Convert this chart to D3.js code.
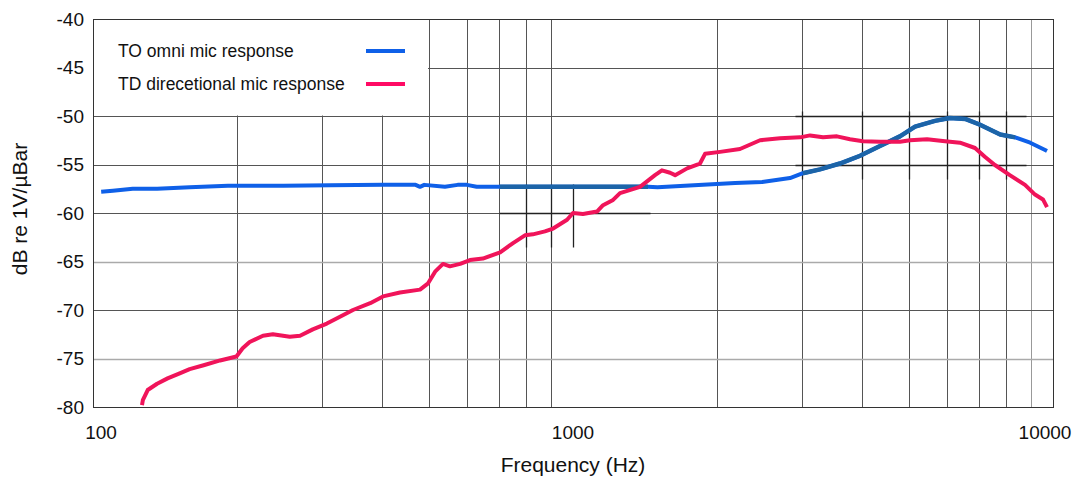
<!DOCTYPE html>
<html>
<head>
<meta charset="utf-8">
<script src="https://cdn.jsdelivr.net/npm/d3@7"></script>
<style>
	body { margin: 0; background: #fff; }
	svg { display: block; font-family: Arial, 'Liberation Sans', sans-serif; }
</style>
</head>
<body>
<div id="chart"></div>
<script>
// omni mic response (Hz, dB)
const omniFreq = [104, 110, 121, 136, 159, 191, 249, 312, 402, 470, 480, 490, 541, 575, 601, 630, 649, 704, 900, 1100, 1433, 1500, 1866, 2176, 2477, 2832, 3013, 3271, 3597, 3963, 4361, 4798, 5160, 5677, 6098, 6561, 7047, 7762, 8340, 8963, 9629, 9716];
const omniDb = [-57.8, -57.7, -57.5, -57.5, -57.35, -57.2, -57.2, -57.15, -57.1, -57.1, -57.3, -57.1, -57.3, -57.1, -57.1, -57.3, -57.3, -57.3, -57.3, -57.3, -57.3, -57.35, -57.1, -56.9, -56.8, -56.4, -55.9, -55.5, -54.9, -54.1, -53.1, -52.1, -51.1, -50.5, -50.2, -50.3, -50.9, -51.9, -52.2, -52.75, -53.5, -53.6];
// directional mic response
const dirFreq = [126.5, 127, 130, 136, 143, 152, 159, 170, 184, 199, 205, 212, 226, 237, 257, 270, 287, 307, 327, 348, 378, 402, 436, 480, 499, 516, 536, 554, 582, 610, 649, 705, 750, 794, 825, 874, 909, 972, 1000, 1049, 1122, 1155, 1212, 1253, 1379, 1482, 1532, 1593, 1632, 1729, 1839, 1884, 2025, 2228, 2453, 2700, 2972, 3118, 3318, 3548, 3776, 4019, 4361, 4800, 5035, 5465, 5957, 6400, 6879, 7211, 7568, 8128, 8744, 9173, 9530, 9716];
const dirDb = [-79.8, -79.3, -78.25, -77.6, -77.05, -76.5, -76.1, -75.7, -75.2, -74.8, -73.95, -73.3, -72.65, -72.5, -72.75, -72.65, -72.0, -71.4, -70.7, -70.0, -69.3, -68.6, -68.2, -67.9, -67.25, -66.05, -65.25, -65.5, -65.25, -64.85, -64.7, -64.05, -63.1, -62.3, -62.2, -61.9, -61.6, -60.7, -60.0, -60.1, -59.85, -59.2, -58.65, -57.95, -57.3, -56.1, -55.6, -55.85, -56.1, -55.4, -54.9, -53.9, -53.7, -53.4, -52.5, -52.3, -52.2, -52.0, -52.2, -52.1, -52.4, -52.6, -52.65, -52.65, -52.5, -52.4, -52.6, -52.75, -53.3, -54.2, -55.05, -56.1, -57.1, -58.1, -58.6, -59.4];
// darker overlay ranges on the omni trace
const omniDarkRanges = [[700, 1450], [2950, 8500]];

const xTicks = [100, 1000, 10000];
const xGrid = [200, 300, 400, 500, 600, 700, 800, 900, 2000, 3000, 4000, 5000, 6000, 7000, 8000, 9000];
const yTicks = [-40, -45, -50, -55, -60, -65, -70, -75, -80];
const legendLabels = ['TO omni mic response', 'TD direcetional mic response'];

const colors = { omni: '#0f60e8', omniDark: '#1c64a8', dir: '#f0145a' };

const W = 1078, H = 477;
const margin = { top: 19, right: 25, bottom: 70, left: 93 };
const width = W - margin.left - margin.right;
const height = H - margin.top - margin.bottom;

const svg = d3.select('#chart').append('svg').attr('width', W).attr('height', H);
const g = svg.append('g').attr('transform', `translate(${margin.left}, ${margin.top})`);

const xScale = d3.scaleLog().domain([100, 10000]).range([0, width]);
const yScale = d3.scaleLinear().domain([-80, -40]).range([height, 0]);

// grid
g.selectAll('.vgrid').data(xGrid).enter().append('line')
	.attr('x1', (d) => Math.round(xScale(d)) + 0.5).attr('x2', (d) => Math.round(xScale(d)) + 0.5)
	.attr('y1', 0).attr('y2', height)
	.style('stroke', (d) => (d === 9000 ? '#999' : '#555')).style('stroke-width', 1);

g.selectAll('.hgrid').data(yTicks).enter().append('line')
	.attr('x1', 0).attr('x2', width)
	.attr('y1', (d) => Math.round(yScale(d)) + 0.5).attr('y2', (d) => Math.round(yScale(d)) + 0.5)
	.style('stroke', (d) => (d === -65 || d === -75 ? '#aaa' : '#555'))
	.style('stroke-width', (d) => (d === -65 || d === -75 ? 1.5 : 1));

// darker patches over the grid
const patches = [
	{ f: [700, 1450], v: [-60, -60] },
	{ f: [800, 800], v: [-57, -63.5] },
	{ f: [900, 900], v: [-57, -63.5] },
	{ f: [1000, 1000], v: [-57, -63.5] },
	{ f: [2900, 8800], v: [-50, -50] },
	{ f: [2900, 8800], v: [-55, -55] },
	{ f: [3000, 3000], v: [-49.5, -56.5] },
	{ f: [4000, 4000], v: [-49.5, -56.5] },
	{ f: [5000, 5000], v: [-49.5, -56.5] },
	{ f: [6000, 6000], v: [-49.5, -56.5] },
	{ f: [7000, 7000], v: [-49.5, -56.5] },
	{ f: [8000, 8000], v: [-49.5, -56.5] }
];
g.selectAll('.patch').data(patches).enter().append('line')
	.attr('x1', (d) => Math.round(xScale(d.f[0])) + 0.5).attr('x2', (d) => Math.round(xScale(d.f[1])) + 0.5)
	.attr('y1', (d) => Math.round(yScale(d.v[0])) + 0.5).attr('y2', (d) => Math.round(yScale(d.v[1])) + 0.5)
	.style('stroke', '#222').style('stroke-width', 1.3);

// legend box hides the grid top-left
g.append('rect')
	.attr('x', 0.5).attr('y', 0.5)
	.attr('width', xScale(500) - 1).attr('height', yScale(-50) - 1)
	.style('fill', '#fff');

// frame
g.append('rect').attr('x', 0.5).attr('y', 0.5).attr('width', width).attr('height', height)
	.style('fill', 'none').style('stroke', '#333').style('stroke-width', 1);

// curves
const line = d3.line().x((d) => xScale(d.f)).y((d) => yScale(d.v));
const omni = omniFreq.map((f, i) => ({ f, v: omniDb[i] }));
const dir = dirFreq.map((f, i) => ({ f, v: dirDb[i] }));

g.append('path').datum(omni).attr('d', line)
	.style('fill', 'none').style('stroke', colors.omni).style('stroke-width', 4).style('stroke-linejoin', 'round');

omniDarkRanges.forEach((r) => {
	const seg = omni.filter((d) => d.f >= r[0] && d.f <= r[1]);
	g.append('path').datum(seg).attr('d', line)
		.style('fill', 'none').style('stroke', colors.omniDark).style('stroke-width', 4.5).style('stroke-linejoin', 'round');
});

g.append('path').datum(dir).attr('d', line)
	.style('fill', 'none').style('stroke', colors.dir).style('stroke-width', 4).style('stroke-linejoin', 'round');

// axis labels
g.selectAll('.ylab').data(yTicks).enter().append('text')
	.attr('x', -9).attr('y', (d) => yScale(d)).attr('dy', '0.36em')
	.attr('text-anchor', 'end').style('font-size', '19px').style('fill', '#111')
	.text((d) => d);

g.selectAll('.xlab').data(xTicks).enter().append('text')
	.attr('x', (d, i) => xScale(d) + (i === 0 ? 8 : i === 2 ? -8 : 0)).attr('y', height + 32)
	.attr('text-anchor', 'middle').style('font-size', '19px').style('fill', '#111')
	.text((d) => d);

svg.append('text')
	.attr('x', margin.left + xScale(1000)).attr('y', 472)
	.attr('text-anchor', 'middle').style('font-size', '21px').style('fill', '#111')
	.text('Frequency (Hz)');

svg.append('text')
	.attr('transform', `translate(27, ${margin.top + height / 2 - 4}) rotate(-90)`)
	.attr('text-anchor', 'middle').style('font-size', '21px').style('fill', '#111')
	.text('dB re 1V/µBar');

// legend
const legendColors = [colors.omni, '#ff0a64'];
const lg = g.selectAll('.legend').data(legendLabels).enter().append('g')
	.attr('transform', (d, i) => `translate(0, ${32 + i * 33})`);
lg.append('text').attr('x', 25).attr('dy', '0.35em')
	.style('font-size', '17.5px').style('fill', '#111').text((d) => d);
lg.append('line').attr('x1', 273).attr('x2', 312)
	.style('stroke', (d, i) => legendColors[i]).style('stroke-width', 4);
</script>
</body>
</html>
